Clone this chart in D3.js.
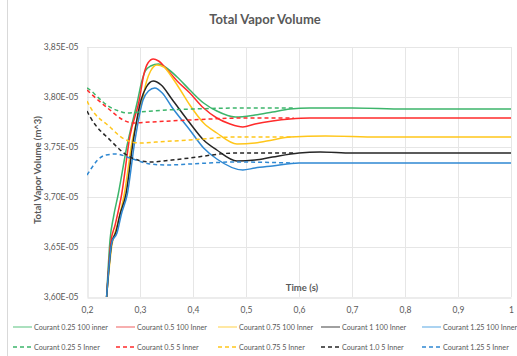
<!DOCTYPE html>
<html>
<head>
<meta charset="utf-8">
<script src="https://cdn.jsdelivr.net/npm/d3@7"></script>
<style>
  body { margin: 0; background: #fff; }
  text { font-family: Lato, "Noto Sans", sans-serif; }
</style>
</head>
<body>
<div id="chart"></div>
<script>
// values in units of 1E-05 m^3, time in s
const xTicks = [0.2, 0.3, 0.4, 0.5, 0.6, 0.7, 0.8, 0.9, 1.0];
const yTicks = [3.60, 3.65, 3.70, 3.75, 3.80, 3.85];

const seriesNames = [
  "Courant 0.25 100 inner", "Courant 0.5 100 Inner", "Courant 0.75 100 Inner",
  "Courant 1 100 Inner", "Courant 1.25 100 Inner",
  "Courant 0.25 5 Inner", "Courant 0.5 5 Inner", "Courant 0.75 5 Inner",
  "Courant 1.0 5 Inner", "Courant 1.25 5 Inner"
];

const c025_100 = [[0.237,3.600],[0.2434,3.657],[0.250,3.680],[0.259,3.703],[0.275,3.750],[0.2957,3.797],
  [0.303,3.815],[0.310,3.826],[0.320,3.831],[0.335,3.833],[0.350,3.829],[0.370,3.820],[0.394,3.807],
  [0.420,3.794],[0.445,3.786],[0.480,3.780],[0.517,3.782],[0.550,3.785],[0.583,3.788],[0.620,3.789],
  [0.700,3.789],[0.800,3.788],[1.000,3.788]];
const c05_100 = [[0.237,3.600],[0.245,3.655],[0.253,3.672],[0.2655,3.703],[0.2807,3.760],[0.2987,3.797],
  [0.307,3.822],[0.315,3.834],[0.325,3.838],[0.335,3.836],[0.350,3.828],[0.370,3.816],[0.394,3.804],
  [0.420,3.789],[0.445,3.779],[0.470,3.773],[0.494,3.770],[0.517,3.773],[0.550,3.776],[0.583,3.778],
  [0.620,3.779],[0.700,3.779],[1.000,3.779]];
const c075_100 = [[0.237,3.600],[0.247,3.652],[0.255,3.668],[0.2704,3.703],[0.285,3.755],[0.3044,3.797],
  [0.312,3.815],[0.320,3.826],[0.332,3.832],[0.345,3.830],[0.360,3.820],[0.375,3.808],[0.394,3.792],
  [0.420,3.774],[0.445,3.764],[0.483,3.753],[0.517,3.754],[0.550,3.757],[0.583,3.760],[0.650,3.761],
  [0.750,3.760],[1.000,3.760]];
const c1_100 = [[0.237,3.600],[0.247,3.655],[0.2547,3.665],[0.262,3.682],[0.2736,3.703],[0.287,3.755],
  [0.302,3.797],[0.312,3.810],[0.325,3.816],[0.340,3.812],[0.360,3.798],[0.394,3.774],[0.420,3.757],
  [0.445,3.747],[0.483,3.736],[0.517,3.737],[0.550,3.740],[0.600,3.744],[0.640,3.745],[0.700,3.744],
  [1.000,3.744]];
const c125_100 = [[0.237,3.600],[0.247,3.655],[0.2566,3.664],[0.265,3.683],[0.2761,3.703],[0.290,3.755],
  [0.3057,3.797],[0.316,3.806],[0.328,3.809],[0.342,3.804],[0.360,3.790],[0.394,3.767],[0.420,3.749],
  [0.445,3.738],[0.494,3.727],[0.517,3.729],[0.550,3.731],[0.600,3.734],[0.700,3.734],[1.000,3.734]];

const c025_5 = [[0.200,3.809],[0.206,3.807],[0.220,3.800],[0.240,3.791],[0.260,3.786],[0.275,3.784],
  [0.300,3.785],[0.350,3.787],[0.400,3.788],[0.500,3.789],[0.590,3.789]];
const c05_5 = [[0.200,3.807],[0.206,3.804],[0.2434,3.787],[0.265,3.778],[0.287,3.774],[0.320,3.775],
  [0.394,3.777],[0.500,3.779],[0.590,3.779]];
const c075_5 = [[0.200,3.796],[0.206,3.790],[0.2434,3.770],[0.270,3.758],[0.300,3.754],[0.330,3.755],
  [0.394,3.757],[0.480,3.760],[0.590,3.760]];
const c1_5 = [[0.200,3.786],[0.206,3.780],[0.2434,3.757],[0.281,3.740],[0.319,3.735],[0.360,3.737],
  [0.394,3.739],[0.480,3.744],[0.590,3.744]];
const c125_5 = [[0.200,3.722],[0.210,3.730],[0.220,3.737],[0.236,3.742],[0.255,3.743],[0.281,3.739],
  [0.320,3.733],[0.350,3.732],[0.394,3.733],[0.480,3.735],[0.590,3.734]];

const seriesData = [c025_100, c05_100, c075_100, c1_100, c125_100, c025_5, c05_5, c075_5, c1_5, c125_5];

const colors = ["#3cb56b", "#ff2b2b", "#ffc61a", "#262626", "#2f88d2"];
const legendSolid = ["#8fd6a8", "#f59595", "#ffe085", "#808080", "#8fc4ec"];

const width = 517, height = 356;
const plot = { left: 87, right: 511, top: 47, bottom: 297 };

const svg = d3.select("#chart")
  .append("svg")
  .attr("width", width)
  .attr("height", height);

const xScale = d3.scaleLinear().domain([0.2, 1]).range([plot.left, plot.right]);
const yScale = d3.scaleLinear().domain([3.60, 3.85]).range([plot.bottom, plot.top]);

const comma = f => v => f(v).replace(".", ",");
const xFmt = v => (v === 1 ? "1" : comma(d3.format(".1f"))(v));
const yFmt = v => comma(d3.format(".2f"))(v) + "E-05";

// chart frame (only left edge visible)
svg.append("line")
  .attr("x1", 7.5).attr("x2", 7.5).attr("y1", 0).attr("y2", height)
  .attr("stroke", "#d9d9d9");

// gridlines
svg.append("g").selectAll("line").data(yTicks.slice(1)).join("line")
  .attr("x1", plot.left).attr("x2", plot.right)
  .attr("y1", d => Math.round(yScale(d)) + 0.5).attr("y2", d => Math.round(yScale(d)) + 0.5)
  .attr("stroke", "#e6e6e6");
svg.append("g").selectAll("line").data(xTicks.slice(1)).join("line")
  .attr("x1", d => Math.round(xScale(d)) + 0.5).attr("x2", d => Math.round(xScale(d)) + 0.5)
  .attr("y1", plot.top).attr("y2", plot.bottom)
  .attr("stroke", "#e6e6e6");

// axes
const xAxis = d3.axisBottom(xScale).tickValues(xTicks).tickFormat(xFmt).tickSize(0).tickPadding(9);
const yAxis = d3.axisLeft(yScale).tickValues(yTicks).tickFormat(yFmt).tickSize(0).tickPadding(9);

const gx = svg.append("g").attr("transform", `translate(0, ${plot.bottom + 0.5})`).call(xAxis);
const gy = svg.append("g").attr("transform", `translate(${plot.left + 0.5}, 0)`).call(yAxis);
[gx, gy].forEach(g => {
  g.select(".domain").attr("stroke", "#d9d9d9");
  g.selectAll("text").attr("fill", "#595959").style("font-size", "8.5px")
    .style("font-family", "Lato, 'Noto Sans', sans-serif");
});

// titles
svg.append("text")
  .attr("x", 265).attr("y", 24)
  .attr("text-anchor", "middle")
  .attr("fill", "#595959")
  .style("font-size", "13px").style("font-weight", "bold")
  .text("Total Vapor Volume");

svg.append("text")
  .attr("transform", "rotate(-90)")
  .attr("x", -170).attr("y", 41)
  .attr("text-anchor", "middle")
  .attr("fill", "#595959")
  .style("font-size", "9.5px").style("font-weight", "bold")
  .text("Total Vapor Volume (m^3)");

svg.append("text")
  .attr("x", 302).attr("y", 291)
  .attr("text-anchor", "middle")
  .attr("fill", "#595959")
  .style("font-size", "9.5px").style("font-weight", "bold")
  .text("Time (s)");

// lines
svg.append("clipPath").attr("id", "clip")
  .append("rect")
  .attr("x", plot.left).attr("y", plot.top)
  .attr("width", plot.right - plot.left).attr("height", plot.bottom - plot.top);

const line = d3.line()
  .x(d => xScale(d[0]))
  .y(d => yScale(d[1]))
  .curve(d3.curveMonotoneX);

const lines = svg.append("g").attr("clip-path", "url(#clip)");
seriesData.forEach((values, i) => {
  lines.append("path")
    .datum(values)
    .attr("fill", "none")
    .attr("stroke", colors[i % 5])
    .attr("stroke-width", 1.5)
    .attr("stroke-dasharray", i >= 5 ? "4,3" : null)
    .attr("d", line);
});

// legend
const legendX = [13, 116, 218, 321, 422];
const legendY = [327, 347];
const legend = svg.append("g");
seriesNames.forEach((name, i) => {
  const lx = legendX[i % 5], ly = legendY[Math.floor(i / 5)];
  legend.append("line")
    .attr("x1", lx).attr("x2", lx + 19)
    .attr("y1", ly).attr("y2", ly)
    .attr("stroke", i < 5 ? legendSolid[i] : colors[i % 5])
    .attr("stroke-width", 1.5)
    .attr("stroke-dasharray", i >= 5 ? "4,3" : null);
  legend.append("text")
    .attr("x", lx + 21).attr("y", ly + 3)
    .attr("fill", "#595959")
    .style("font-size", "7.2px")
    .text(name);
});
</script>
</body>
</html>
